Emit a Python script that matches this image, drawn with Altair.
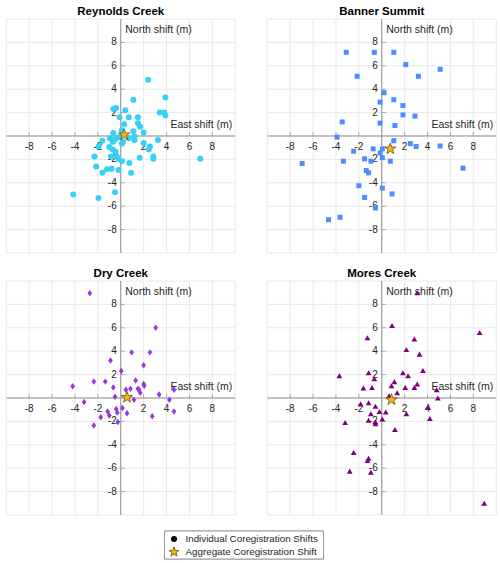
import altair as alt
import pandas as pd
import math

# ---------------- data (east, north shifts in metres) ----------------
rc_east = [2.4, 3.9, 1.1, -0.65, -0.4, 0.4, -0.1, 0.7, 1.5, 3.4, 3.8, 3.9, 0.3, 1.5, 1.7, 0.1,
           -0.65, 1.1, 2.0, -0.5, -0.2, -0.95, -0.7, -1.6, 0.1, 0.2, 0.7, 1.2, 1.2, 2.0, 2.55,
           2.45, 3.25, -1.95, -1.0, -0.7, -0.45, -2.3, -0.85, -0.35, -0.2, 0.1, 0.75, 1.65,
           2.85, 2.85, 6.95, -2.15, -1.2, -0.8, -1.6, -0.2, 0.9, -4.15, -1.95, -0.5]
rc_north = [4.8, 3.3, 3.1, 2.3, 2.4, 2.2, 1.6, 1.6, 1.6, 2.0, 2.0, 1.75, 1.0, 1.1, 0.8, 0.5,
            0.25, 0.4, 0.3, -0.3, -0.1, -0.2, -0.5, -0.4, -0.65, -0.5, -0.2, -0.05, -0.35, -0.6,
            -0.9, -1.15, -0.35, -0.9, -0.95, -1.15, -1.35, -1.75, -1.75, -1.75, -1.95, -2.15,
            -2.3, -1.85, -1.75, -1.95, -1.95, -2.6, -2.85, -2.8, -3.15, -2.9, -3.15, -5.0, -5.3, -4.8]
rc_star = (0.3, 0.1)

bs_east = [-3.1, -0.65, 1.05, 2.1, 5.1, -2.15, 3.2, 0.2, -0.15, 1.05, 1.85, 1.85, 2.9, -0.15,
           1.15, -3.45, -3.9, 1.05, 2.5, 3.0, 5.1, -0.75, 0.05, -2.45, -0.15, 0.05, -1.5, -0.95,
           -3.35, 0.75, -6.95, 7.1, -1.35, -1.15, -2.0, 0.05, 0.9, -1.5, -0.55, -3.65, -4.65]
bs_north = [7.15, 7.15, 7.15, 6.1, 5.7, 5.1, 5.1, 3.7, 2.9, 3.1, 2.6, 1.8, 1.7, 1.1, 0.9, 1.2,
            -0.1, -0.4, -0.65, -0.9, -0.85, -1.1, -1.1, -1.3, -1.45, -1.85, -1.95, -2.15, -2.15,
            -2.15, -2.35, -2.75, -2.95, -3.15, -4.25, -4.45, -4.95, -5.25, -6.15, -6.95, -7.15]
bs_star = (0.75, -1.1)

dc_east = [-2.7, 3.05, 0.95, 2.55, -0.9, 2.0, 0.05, -2.35, -1.35, 1.3, -4.2, -0.65, 0.45, 0.85,
           1.5, 2.0, 2.05, 1.7, 1.6, 4.65, -0.5, 3.35, 1.15, 4.25, -3.2, 0.15, -0.4, -1.15,
           -0.3, 0.55, -1.0, -1.75, 2.75, 4.65, -0.25, -2.35]
dc_north = [8.95, 6.0, 3.9, 3.9, 3.2, 2.8, 2.3, 1.4, 1.4, 1.5, 1.0, 0.9, 0.7, 0.8, 0.8, 1.2,
            1.05, 0.45, 0.7, 0.7, 0.1, 0.3, -0.15, -0.15, -0.35, -0.85, -0.95, -1.15, -1.25,
            -1.3, -1.5, -1.65, -1.55, -1.15, -2.05, -2.35]
dc_star = (0.55, 0.05)

mc_east = [3.1, 0.9, 8.55, -1.25, 2.85, 2.15, 3.3, 3.6, -3.7, -1.15, 1.85, 2.3, -0.65, 1.1,
           0.85, 3.1, -1.6, -0.85, 2.05, 2.85, 4.8, 1.35, 0.65, 4.9, -1.85, -1.15, -0.55, 4.05,
           -0.2, 0.35, -0.95, 2.15, 0.05, 4.2, -1.15, -0.55, -0.55, -3.2, 1.15, -2.45, -1.15,
           -1.25, -2.8, -0.95, 8.95]
mc_north = [9.0, 6.2, 5.6, 5.15, 5.05, 4.15, 3.75, 2.35, 1.9, 2.15, 2.15, 1.9, 1.65, 1.4, 1.05,
            1.2, 0.85, 0.9, 0.9, 0.9, 0.7, 0.45, 0.2, 0.0, -0.5, -0.4, -0.7, -0.8, -1.15, -1.2,
            -1.35, -1.35, -1.8, -1.75, -1.9, -2.05, -2.2, -2.1, -2.7, -4.65, -5.15, -5.35,
            -6.25, -6.35, -9.0]
mc_star = (0.85, -0.15)

panel_titles = ["Reynolds Creek", "Banner Summit", "Dry Creek", "Mores Creek"]
grid_values = [-10, -8, -6, -4, -2, 0, 2, 4, 6, 8, 10]
tick_values = [-8, -6, -4, -2, 2, 4, 6, 8]
tick_labels = ["-8", "-6", "-4", "-2", "2", "4", "6", "8"]
legend_labels = ["Individual Coregistration Shifts", "Aggregate Coregistration Shift"]

# ---------------- styling ----------------
FONT = "Liberation Sans"
TXT = "#262626"
AXIS_LINE = "#8f8f8f"
GRID = "#e9e9e9"
STAR_FILL = "#f4b41f"
STAR_EDGE = "#6b5000"


def star_path(inner=0.4):
    pts = []
    for k in range(10):
        r = 1.0 if k % 2 == 0 else inner
        a = math.radians(-90 + 36 * k)
        pts.append(f"{r * math.cos(a):.4f},{r * math.sin(a):.4f}")
    return "M" + " L".join(pts) + " Z"


STAR = star_path()
DIAMOND = "M0,-1 L0.72,0 L0,1 L-0.72,0 Z"

W, H = 229, 234
SC = alt.Scale(domain=[-10, 10], nice=False, zero=False)


def panel(title, east, north, star, shape, color, size):
    pts = pd.DataFrame({"east": east, "north": north})
    st = pd.DataFrame({"east": [star[0]], "north": [star[1]]})
    ticks = pd.DataFrame({"t": tick_values, "lab": tick_labels})
    grid = pd.DataFrame({"g": grid_values})
    zero = pd.DataFrame({"v": [0]})

    gridx = alt.Chart(grid).mark_rule(color=GRID, strokeWidth=1).encode(
        x=alt.X("g:Q", scale=SC, axis=None))
    gridy = alt.Chart(grid).mark_rule(color=GRID, strokeWidth=1).encode(
        y=alt.Y("g:Q", scale=SC, axis=None))

    vline = alt.Chart(zero).mark_rule(color=AXIS_LINE, strokeWidth=1).encode(
        x=alt.X("v:Q", scale=SC, axis=None))
    hline = alt.Chart(zero).mark_rule(color=AXIS_LINE, strokeWidth=1).encode(
        y=alt.Y("v:Q", scale=SC, axis=None))

    xticks = alt.Chart(ticks).mark_tick(orient="vertical", size=4, thickness=1,
                                        color=AXIS_LINE, yOffset=-2).encode(
        x=alt.X("t:Q", scale=SC, axis=None), y=alt.YDatum(0, scale=SC, axis=None))
    yticks = alt.Chart(ticks).mark_tick(orient="horizontal", size=4, thickness=1,
                                        color=AXIS_LINE, xOffset=2).encode(
        y=alt.Y("t:Q", scale=SC, axis=None), x=alt.XDatum(0, scale=SC, axis=None))

    xlab = alt.Chart(ticks).mark_text(font=FONT, fontSize=10, color=TXT, baseline="middle",
                                      dy=11).encode(
        x=alt.X("t:Q", scale=SC, axis=None), y=alt.YDatum(0, scale=SC, axis=None),
        text="lab:N")
    ylab = alt.Chart(ticks).mark_text(font=FONT, fontSize=10, color=TXT, baseline="middle",
                                      align="right", dx=-4).encode(
        y=alt.Y("t:Q", scale=SC, axis=None), x=alt.XDatum(0, scale=SC, axis=None),
        text="lab:N")

    north_t = alt.Chart(zero).mark_text(font=FONT, fontSize=10.5, color=TXT, align="left",
                                        baseline="middle", dx=4.5, dy=11,
                                        text="North shift (m)").encode(
        x=alt.XDatum(0, scale=SC, axis=None), y=alt.YDatum(10, scale=SC, axis=None))
    east_t = alt.Chart(zero).mark_text(font=FONT, fontSize=10.5, color=TXT, align="right",
                                       baseline="middle", dx=-3, dy=-11,
                                       text="East shift (m)").encode(
        x=alt.XDatum(10, scale=SC, axis=None), y=alt.YDatum(0, scale=SC, axis=None))

    points = alt.Chart(pts).mark_point(shape=shape, filled=True, size=size, color=color,
                                       opacity=1, strokeWidth=0).encode(
        x=alt.X("east:Q", scale=SC, axis=None), y=alt.Y("north:Q", scale=SC, axis=None))
    starm = alt.Chart(st).mark_point(shape=STAR, filled=True, size=140, fill=STAR_FILL,
                                     stroke=STAR_EDGE, strokeWidth=0.8, opacity=1).encode(
        x=alt.X("east:Q", scale=SC, axis=None), y=alt.Y("north:Q", scale=SC, axis=None))

    return alt.layer(gridx, gridy, vline, hline, xticks, yticks, xlab, ylab, north_t, east_t,
                     points, starm).properties(
        width=W, height=H,
        title=alt.Title(title, font=FONT, fontSize=11.5, fontWeight="bold", color="#000000",
                        offset=1))


p1 = panel(panel_titles[0], rc_east, rc_north, rc_star, "circle", "#36d0f8", 36)
p2 = panel(panel_titles[1], bs_east, bs_north, bs_star, "square", "#4f8cff", 25)
p3 = panel(panel_titles[2], dc_east, dc_north, dc_star, DIAMOND, "#9a34e4", 42)
p4 = panel(panel_titles[3], mc_east, mc_north, mc_star, "triangle-up", "#7f007f", 34)

# ---------------- legend ----------------
leg = pd.DataFrame({"label": legend_labels})
ly = alt.Y("label:N", sort=legend_labels, axis=None,
           scale=alt.Scale(type="point", range=[8, 21], padding=0))
box = alt.Chart(leg).mark_rect(fill="white", stroke="#9a9a9a", strokeWidth=1).encode(
    x=alt.value(0), x2=alt.value(159), y=alt.value(0), y2=alt.value(28))
circ = alt.Chart(leg).transform_filter(alt.datum.label == legend_labels[0]).mark_point(
    shape="circle", filled=True, size=36, color="black", opacity=1).encode(
    x=alt.value(9.5), y=ly)
lstar = alt.Chart(leg).transform_filter(alt.datum.label == legend_labels[1]).mark_point(
    shape=STAR, filled=True, size=110, fill=STAR_FILL, stroke=STAR_EDGE, strokeWidth=0.8,
    opacity=1).encode(x=alt.value(9.5), y=ly)
ltxt = alt.Chart(leg).mark_text(font=FONT, fontSize=9.8, color=TXT, align="left",
                                baseline="middle").encode(
    x=alt.value(21), y=ly, text="label:N")
legend = alt.layer(box, circ, lstar, ltxt).properties(width=174, height=28)

row1 = alt.hconcat(p1, p2, spacing=30)
row2 = alt.hconcat(p3, p4, spacing=30)
chart = alt.vconcat(row1, row2, legend, spacing=14, center=True).properties(
    padding={"left": 5, "top": 6, "right": 0, "bottom": 0}
).configure_view(stroke=None)

chart.save("out.html", embed_options={"renderer": "svg", "actions": False})
